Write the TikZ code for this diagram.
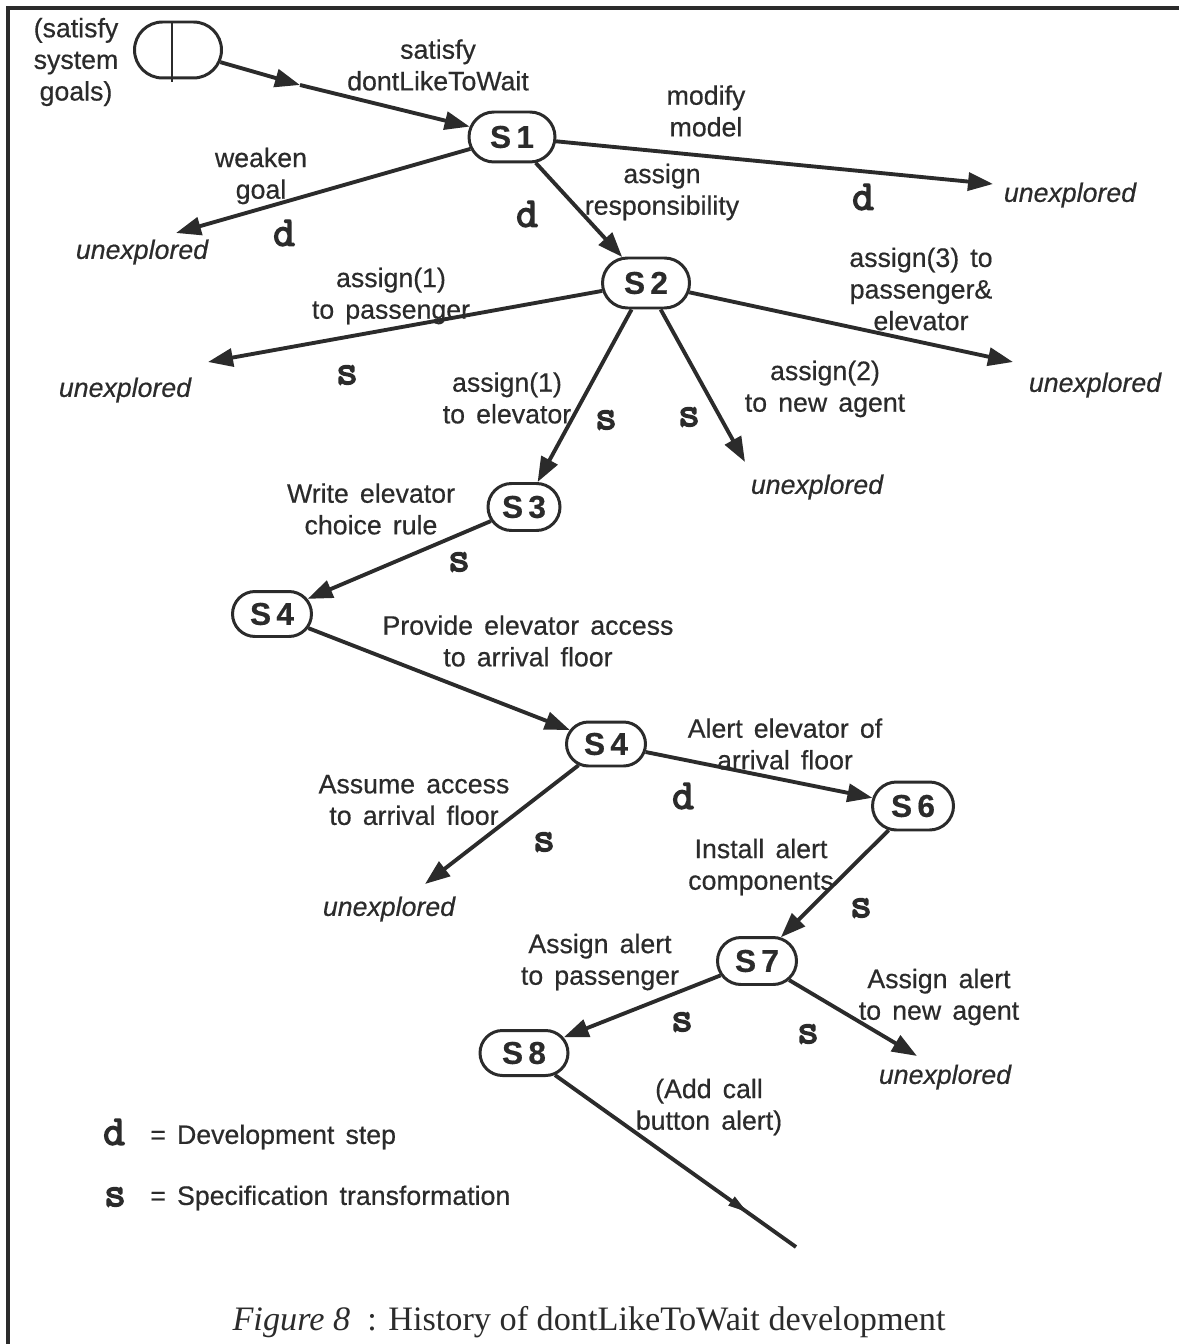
\documentclass[tikz,border=0pt]{standalone}
\usepackage{fontspec}
\setmainfont{Liberation Sans}[WordSpace=1.5, FakeBold=0.5]
\newfontfamily\codefont{Latin Modern Mono}[FakeBold=3.5]
\newfontfamily\capfont{Liberation Serif}
\usetikzlibrary{arrows.meta,shapes.misc,decorations.markings}

\definecolor{ink}{gray}{0.17}

\tikzset{
  stepnode/.style={rounded rectangle, draw=ink, line width=1.7pt, inner sep=0pt,
    text=ink, font=\fontsize{18}{18}\selectfont\bfseries},
  flow/.style={draw=ink, line width=2.2pt, -{Triangle[length=0.5cm,width=0.36cm]}},
  lab/.style={align=center, text=ink, inner sep=0pt, font=\fontsize{15.2}{18}\selectfont},
  unx/.style={text=ink, inner sep=0pt, font=\fontsize{15.2}{18}\selectfont\itshape},
  kind/.style={text=ink, inner sep=0pt, font=\codefont\fontsize{24}{24}\selectfont},
}

\begin{document}
\begin{tikzpicture}[x=0.02cm,y=-0.02cm]
\useasboundingbox (0,0) rectangle (1179,1344);

% frame
\draw[ink, line width=2.2pt] (8,1344) -- (8,8) -- (1179,8);

% states
\node[stepnode, minimum width=1.74cm, minimum height=1.12cm] (start) at (178,50) {};
\draw[ink, line width=1.5pt] (172,22) -- (172,82);
\node[lab] (startlab) at (76,62) {(satisfy\\system\\goals)};

\node[stepnode, minimum width=1.72cm, minimum height=1.0cm] (s1) at (512,137) {S\,1};
\node[stepnode, minimum width=1.74cm, minimum height=1.0cm] (s2) at (646,283) {S\,2};
\node[stepnode, minimum width=1.44cm, minimum height=0.94cm] (s3) at (524,507) {S\,3};
\node[stepnode, minimum width=1.58cm, minimum height=0.9cm] (s4a) at (272,614) {S\,4};
\node[stepnode, minimum width=1.58cm, minimum height=0.88cm] (s4b) at (606,744) {S\,4};
\node[stepnode, minimum width=1.62cm, minimum height=0.96cm] (s6) at (913,806) {S\,6};
\node[stepnode, minimum width=1.58cm, minimum height=0.94cm] (s7) at (757,961) {S\,7};
\node[stepnode, minimum width=1.76cm, minimum height=0.9cm] (s8) at (524,1053) {S\,8};

% unexplored branches
\node[unx] (u1) at (142,252) {unexplored};
\node[unx] (u2) at (1070,195) {unexplored};
\node[unx] (u3) at (125,390) {unexplored};
\node[unx] (u4) at (1095,385) {unexplored};
\node[unx] (u5) at (817,487) {unexplored};
\node[unx] (u6) at (389,909) {unexplored};
\node[unx] (u7) at (945,1077) {unexplored};

\coordinate (t1) at (176,233);
\coordinate (t2) at (993,184);
\coordinate (t3) at (208,362);
\coordinate (t4) at (1013,362);
\coordinate (t5) at (745,462);
\coordinate (t6) at (425,884);
\coordinate (t7) at (917,1056);
\coordinate (m0) at (300,85);
\coordinate (e8) at (796,1247);

% connectors
\draw[flow] (start) -- (m0);
\draw[flow] (m0) -- (s1);
\draw[flow] (s1) -- (t1);
\draw[flow] (s1) -- (t2);
\draw[flow] (s1) -- (s2);
\draw[flow] (s2) -- (t3);
\draw[flow] (s2) -- (t4);
\draw[flow] (s2) -- (s3);
\draw[flow] (s2) -- (t5);
\draw[flow] (s3) -- (s4a);
\draw[flow] (s4a) -- (s4b);
\draw[flow] (s4b) -- (t6);
\draw[flow] (s4b) -- (s6);
\draw[flow] (s6) -- (s7);
\draw[flow] (s7) -- (s8);
\draw[flow] (s7) -- (t7);
\draw[ink, line width=2.2pt, postaction={decorate},
  decoration={markings, mark=at position 0.8 with {\arrow{Triangle[length=0.4cm,width=0.2cm]}}}]
  (s8) -- (e8);

% edge labels
\node[lab] (l1) at (438,65) {satisfy\\dontLikeToWait};
\node[lab] (l2) at (706,111) {modify\\model};
\node[lab] (l3) at (261,176) {weaken\\goal};
\node[lab] (l4) at (662,192) {assign\\responsibility};
\node[lab] (l5) at (391,296) {assign(1)\\to passenger};
\node[lab] (l6) at (921,289) {assign(3) to\\passenger\&\\elevator};
\node[lab] (l7) at (507,398) {assign(1)\\to elevator};
\node[lab] (l8) at (825,389) {assign(2)\\to new agent};
\node[lab] (l9) at (371,509) {Write elevator\\choice rule};
\node[lab] (l10) at (528,641) {Provide elevator access\\to arrival floor};
\node[lab] (l11) at (785,744) {Alert elevator of\\arrival floor};
\node[lab] (l12) at (414,800) {Assume access\\to arrival floor};
\node[lab] (l13) at (761,867) {Install alert\\components};
\node[lab] (l14) at (600,962) {Assign alert\\to passenger};
\node[lab] (l15) at (939,997) {Assign alert\\to new agent};
\node[lab] (l16) at (709,1107) {(Add call\\button alert)};

% step kinds
\node[kind] (k1) at (284,233) {d};
\node[kind] (k2) at (527,214) {d};
\node[kind] (k3) at (863,197) {d};
\node[kind] (k4) at (347,375) {s};
\node[kind] (k5) at (606,420) {s};
\node[kind] (k6) at (689,417) {s};
\node[kind] (k7) at (459,562) {s};
\node[kind] (k8) at (683,796) {d};
\node[kind] (k9) at (544,842) {s};
\node[kind] (k10) at (861,908) {s};
\node[kind] (k11) at (682,1022) {s};
\node[kind] (k12) at (808,1034) {s};

% legend
\node[kind] (kd) at (114,1132) {d};
\node[lab, anchor=west] (ld) at (150,1137) {= Development step};
\node[kind] (ks) at (115,1197) {s};
\node[lab, anchor=west] (ls) at (150,1198) {= Specification transformation};

% caption
\node[text=ink, inner sep=0pt, font=\capfont\fontsize{19.5}{22}\selectfont] (cap) at (589,1322)
  {\textit{Figure 8}\ \ : History of dontLikeToWait development};
\end{tikzpicture}
\end{document}
